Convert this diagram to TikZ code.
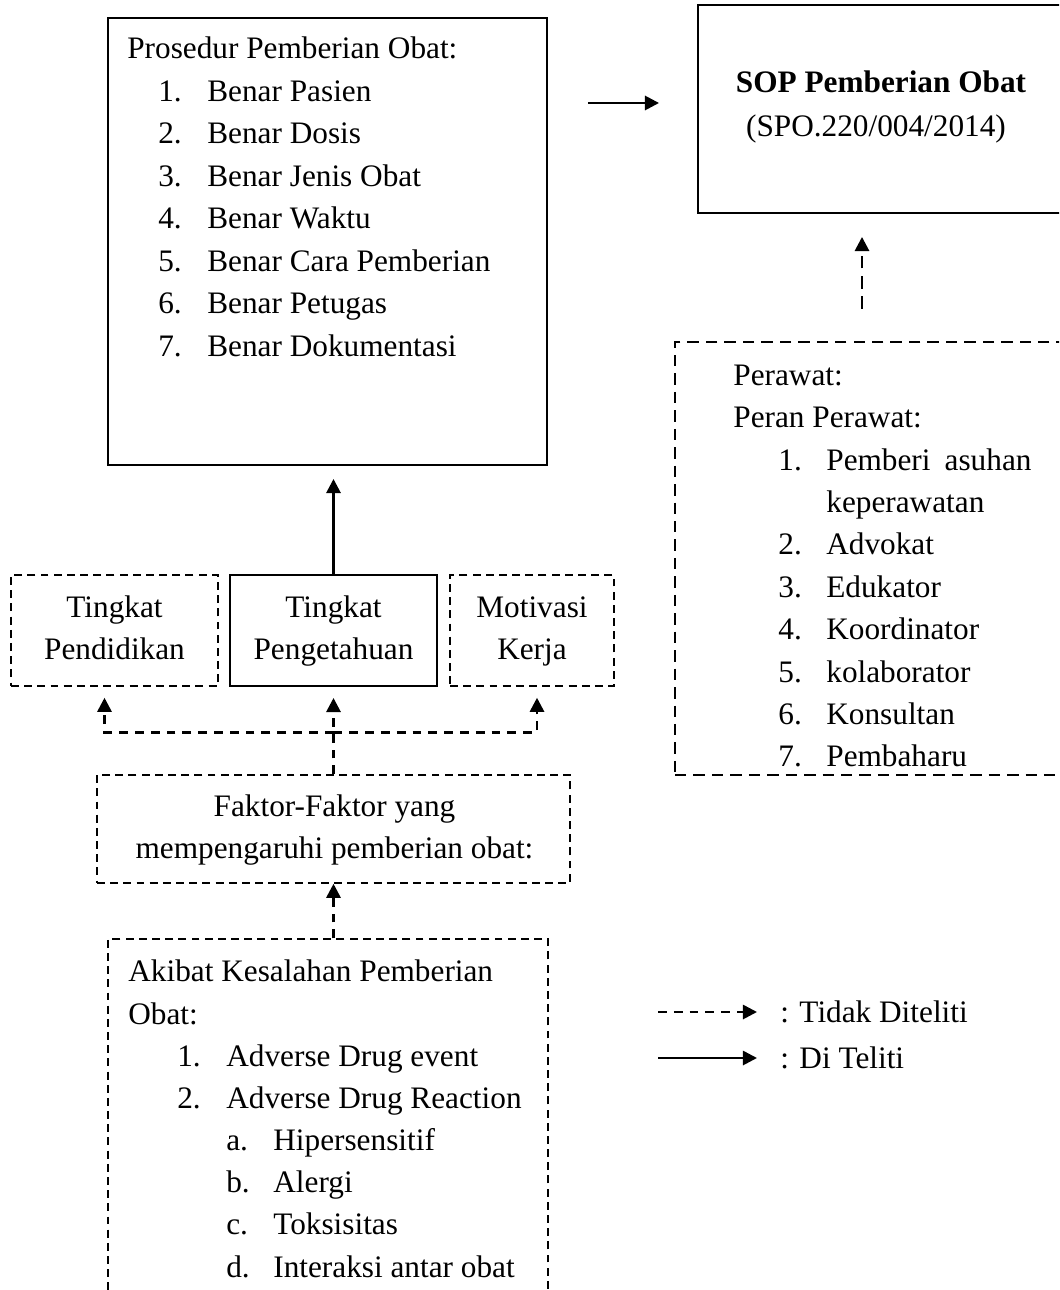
\documentclass[tikz,border=0pt]{standalone}
\usepackage{fontspec}
\setmainfont{Liberation Serif}
\usetikzlibrary{positioning,fit,calc,arrows.meta}
\tikzset{>={Triangle[length=8pt,width=8pt]}}
\tikzset{
  solidbox/.style={draw, line width=1.1pt, inner sep=0pt},
  dashbox/.style={draw, line width=0.85pt, dash pattern=on 4.5pt off 3pt, inner sep=0pt},
  widedashbox/.style={draw, line width=1.4pt, dash pattern=on 6.5pt off 4pt, inner sep=0pt},
  solidarrow/.style={->, line width=1.5pt},
  dasharrow/.style={->, line width=1.5pt, dash pattern=on 5pt off 4pt},
  itemtext/.style={anchor=base west, inner sep=0pt},
  boxtext/.style={anchor=base, inner sep=0pt},
}
\newcommand*{\diagfont}{\fontsize{17.8}{24.2}\selectfont}

\begin{document}
\begin{tikzpicture}[x=0.02cm,y=-0.02cm,font=\diagfont]
\useasboundingbox (0,0) rectangle (1059,1290);
\clip (0,0) rectangle (1059,1290);
% boxes
\node[solidbox, fit={(108,18) (547,465)}] (prosedur) {};
\node[solidbox, fit={(698,5) (1064,213)}] (sop) {};
\node[widedashbox, fit={(675,342) (1070,775)}] (perawat) {};
\node[dashbox, fit={(11,575) (218,686)}] (pendidikan) {};
\node[solidbox, fit={(230,575) (437,686)}] (pengetahuan) {};
\node[dashbox, fit={(450,575) (614,686)}] (motivasi) {};
\node[dashbox, fit={(97,775) (570,883)}] (faktor) {};
\node[dashbox, fit={(108,939) (548,1310)}] (akibat) {};

% two-line box texts
\node[boxtext] (sop-a) at ($(sop.center)+(0,-16)$) {\textbf{SOP Pemberian Obat}};
\node[boxtext] (sop-b) at ($(sop.center)+(-5,28)$) {(SPO.220/004/2014)};
\foreach \nm/\a/\b in {pendidikan/Tingkat/Pendidikan,pengetahuan/Tingkat/Pengetahuan,motivasi/Motivasi/Kerja}{
  \node[boxtext] (\nm-a) at ($(\nm.center)+(0,-13.5)$) {\a};
  \node[boxtext] (\nm-b) at ($(\nm.center)+(0,28.5)$) {\b};
}
\node[boxtext] (faktor-a) at ($(faktor.center)+(1,-13)$) {Faktor-Faktor yang};
\node[boxtext] (faktor-b) at ($(faktor.center)+(1,29)$) {mempengaruhi pemberian obat:};

% prosedur list
\node[itemtext] (prosedurtitle) at (127,59) {Prosedur Pemberian Obat:};
\foreach \t [count=\i] in {Benar Pasien,Benar Dosis,Benar Jenis Obat,Benar Waktu,Benar Cara Pemberian,Benar Petugas,Benar Dokumentasi}{
  \node[itemtext] (pnum\i) at (158,{59+42.5*\i}) {\i.};
  \node[itemtext] (pitem\i) at (207,{59+42.5*\i}) {\t};
}

% peran perawat
\node[itemtext] (perawattitle) at (733,385) {Perawat:};
\node[itemtext] (peran) at (733,427) {Peran Perawat:};
\node[itemtext] (rnum1) at (778,470) {1.};
\node[itemtext] (ritem1) at (826,470) {Pemberi\hspace{0.45em}asuhan};
\node[itemtext] (ritem1b) at (826,512) {keperawatan};
\foreach \t [count=\i from 2] in {Advokat,Edukator,Koordinator,kolaborator,Konsultan,Pembaharu}{
  \node[itemtext] (rnum\i) at (778,{470+42.4*\i}) {\i.};
  \node[itemtext] (ritem\i) at (826,{470+42.4*\i}) {\t};
}

% akibat kesalahan
\node[itemtext] (akibattitle) at (128,981) {Akibat Kesalahan Pemberian};
\node[itemtext] (akibattitleb) at (128,1024) {Obat:};
\foreach \t [count=\i] in {Adverse Drug event,Adverse Drug Reaction}{
  \node[itemtext] (anum\i) at (177,{1024+42.3*\i}) {\i.};
  \node[itemtext] (aitem\i) at (226,{1024+42.3*\i}) {\t};
}
\foreach \l/\t [count=\i] in {a/Hipersensitif,b/Alergi,c/Toksisitas,d/Interaksi antar obat}{
  \node[itemtext] (alet\i) at (226,{1108+42.3*\i}) {\l.};
  \node[itemtext] (asub\i) at (273,{1108+42.3*\i}) {\t};
}

% arrows
\draw[solidarrow, shorten <=0.8cm, shorten >=0.76cm] ($(prosedur.east |- sop.west)+(0,-6)$) -- ($(sop.west)+(0,-6)$);
\coordinate (up) at (862,0);
\draw[dasharrow, dash pattern=on 7pt off 4.5pt, shorten <=0.64cm, shorten >=0.46cm] (perawat.north -| up) -- (sop.south -| up);
\draw[solidarrow, shorten >=0.26cm] (pengetahuan.north) -- (pengetahuan.north |- prosedur.south);
\path (faktor.north) ++(0,-42) coordinate (split);
\draw[dasharrow, shorten >=0.22cm] (faktor.north) -- (pengetahuan.south);
\draw[dasharrow, shorten >=0.22cm] (split) -| ($(pendidikan.south)+(-10,0)$);
\draw[dasharrow, shorten >=0.22cm] (split) -| ($(motivasi.south)+(5,0)$);
\draw[dasharrow] (akibat.north -| faktor.south) -- (faktor.south);

% legend
\coordinate (legdash) at (658,1012);
\coordinate (legsolid) at (658,1058);
\node[itemtext, anchor=west] (legdashtext) at (780,1012) {: Tidak Diteliti};
\node[itemtext, anchor=west] (legsolidtext) at (780,1058) {: Di Teliti};
\draw[dasharrow, shorten >=0.46cm] (legdash) -- (legdashtext.west);
\draw[solidarrow, shorten >=0.46cm] (legsolid) -- (legsolidtext.west);
\end{tikzpicture}
\end{document}
